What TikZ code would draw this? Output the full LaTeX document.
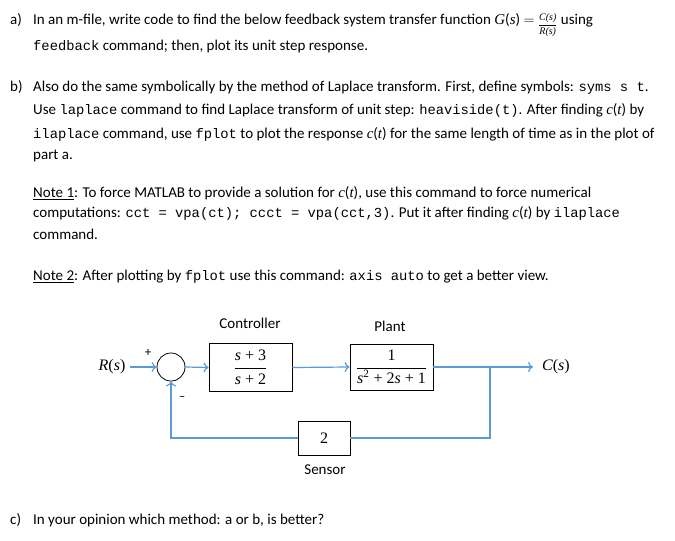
\documentclass[tikz,border=0pt]{standalone}
\usepackage{amsmath}
\usepackage{fontspec}
\setmainfont{Carlito}
\setmonofont[Scale=0.92]{Liberation Mono}
\newfontfamily\mathfont{Liberation Serif}
\usetikzlibrary{arrows.meta}
\definecolor{lineblue}{RGB}{91,155,213}
\newcommand{\mi}[1]{{\mathfont\itshape #1}}
\tikzset{
  txt/.style={anchor=base west, inner sep=0pt, font=\fontsize{15}{17}\selectfont},
  blk/.style={draw=black, line width=0.8pt, minimum width=83pt, minimum height=48pt, inner sep=0pt},
  conn/.style={draw=lineblue, line width=1.2pt, -{To[length=5pt,width=10pt]}},
  plain/.style={draw=lineblue, line width=1.2pt},
}
\begin{document}
\begin{tikzpicture}[x=1pt,y=-1pt]
\useasboundingbox (0,0) rectangle (675,541);
% text
\node[txt] (a1l) at (10,24) {a)};
\node[txt] (a1) at (33,24) {In an m-file, write code to find the below feedback system transfer function \mi{G}(\mi{s}) $=$ \raisebox{-3.5pt}{\fontsize{10}{10}\selectfont\mathfont\itshape$\genfrac{}{}{0.5pt}{0}{\text{C(s)}}{\text{R(s)}}$} using};
\node[txt] (a2) at (33,50) {{\ttfamily feedback} command; then, plot its unit step response.};
\node[txt] (b1l) at (10,91) {b)};
\node[txt] (b1) at (33,91) {Also do the same symbolically by the method of Laplace transform. First, define symbols: {\ttfamily syms s t}.};
\node[txt] (b2) at (33,114) {Use {\ttfamily laplace} command to find Laplace transform of unit step: {\ttfamily heaviside(t)}. After finding \mi{c}(\mi{t}) by};
\node[txt] (b3) at (33,138) {{\ttfamily ilaplace} command, use {\ttfamily fplot} to plot the response \mi{c}(\mi{t}) for the same length of time as in the plot of};
\node[txt] (b4) at (33,159) {part a.};
\node[txt] (n1) at (33,197) {\underline{Note 1}: To force MATLAB to provide a solution for \mi{c}(\mi{t}), use this command to force numerical};
\node[txt] (n2) at (33,217) {computations: {\ttfamily cct = vpa(ct); ccct = vpa(cct,3)}. Put it after finding \mi{c}(\mi{t}) by {\ttfamily ilaplace}};
\node[txt] (n3) at (33,239) {command.};
\node[txt] (n4) at (33,280) {\underline{Note 2}: After plotting by {\ttfamily fplot} use this command: {\ttfamily axis auto} to get a better view.};
\node[txt] (cl) at (10,524) {c)};
\node[txt] (c1) at (33,524) {In your opinion which method: a or b, is better?};
% diagram
\node[inner sep=0pt, font=\fontsize{16}{18}\selectfont\mathfont] (R) at (112,367) {\itshape R\upshape(\itshape s\upshape)};
\node[draw=black, line width=0.8pt, circle, minimum size=28pt, inner sep=0pt] (sum) at (171,367) {};
\node[font=\fontsize{13}{13}\selectfont] (plus) at (148,353) {+};
\node[font=\fontsize{13}{13}\selectfont] (minus) at (182,398) {\textendash};
\node[blk] (ctrl) at (250.5,367.5) {\fontsize{16}{18}\mathfont$\genfrac{}{}{0.6pt}{0}{\text{\itshape s \upshape+ 3}}{\text{\itshape s \upshape+ 2}}$};
\node[blk, minimum height=46pt] (plant) at (391.5,367) {\fontsize{16}{18}\mathfont$\genfrac{}{}{0.6pt}{0}{\text{1}}{\text{\itshape s\upshape\textsuperscript{2} + 2\itshape s\upshape{} + 1}}$};
\node[font=\fontsize{15}{17}\selectfont] (ctrlT) at (250,323) {Controller};
\node[font=\fontsize{15}{17}\selectfont] (plantT) at (390,326) {Plant};
\node[draw=black, line width=0.8pt, minimum width=52pt, minimum height=34pt, inner sep=0pt, font=\fontsize{16}{18}\mathfont] (sens) at (324,438) {2};
\node[font=\fontsize{15}{17}\selectfont] (sensT) at (325,470) {Sensor};
\node[inner sep=0pt, font=\fontsize{16}{18}\selectfont\mathfont, anchor=west] (C) at (542,367) {\itshape C\upshape(\itshape s\upshape)};
\coordinate (br) at (490,367);
\coordinate (bot) at (490,438);
\draw[conn] (R.east) ++(4,0) -- (sum.west);
\draw[conn] (sum.east) -- (ctrl.west);
\draw[conn] (ctrl.east) -- (plant.west);
\draw[conn] (plant.east) -- ([xshift=-9pt]C.west);
\draw[plain] (br) -- (bot) -- (sens.east);
\draw[conn] (sens.west) -| (sum.south);
\end{tikzpicture}
\end{document}
